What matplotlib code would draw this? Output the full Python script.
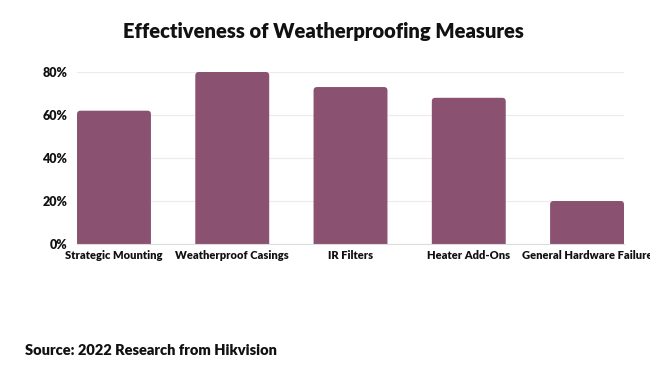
import matplotlib.pyplot as plt
from matplotlib.patches import FancyBboxPatch
from matplotlib.ticker import PercentFormatter

categories = ["Strategic Mounting", "Weatherproof Casings", "IR Filters", "Heater Add-Ons", "General Hardware Failure"]
effectiveness = [62, 80, 73, 68, 20]
y_ticks = [0, 20, 40, 60, 80]

plt.rcParams["font.family"] = ["Lato", "DejaVu Sans"]
plt.rcParams["font.weight"] = "bold"

fig = plt.figure(figsize=(6.5, 3.66), dpi=100)
ax = fig.add_axes([0.1185, 0.3333, 0.8415, 0.47])

bar_width = 0.625
bars = ax.bar(range(len(categories)), effectiveness, width=bar_width, color="#8a5270", zorder=2)

ax.set_xlim(-bar_width / 2, len(categories) - 1 + bar_width / 2)
ax.set_ylim(0, 80)

# swap plain bars for ones with slightly rounded tops
fig.canvas.draw()
px_x = ax.transData.transform((1, 0))[0] - ax.transData.transform((0, 0))[0]
px_y = ax.transData.transform((0, 1))[1] - ax.transData.transform((0, 0))[1]
aspect = px_x / px_y
radius = 3.5 / px_x
for rect in bars:
    rect.set_visible(False)
    x, w, h = rect.get_x(), rect.get_width(), rect.get_height()
    patch = FancyBboxPatch((x, -5), w, h + 5, boxstyle=f"round,pad=0,rounding_size={radius}",
                           mutation_aspect=aspect, facecolor="#8a5270", edgecolor="none", zorder=2)
    ax.add_patch(patch)
    patch.set_clip_path(ax.patch)

ax.set_yticks(y_ticks)
ax.yaxis.set_major_formatter(PercentFormatter(decimals=0))
ax.set_xticks(range(len(categories)))
ax.set_xticklabels(categories, fontsize=8, fontweight="heavy", color="#111111")
ax.tick_params(axis="y", labelsize=9, labelcolor="#111111", length=0, pad=7)
ax.tick_params(axis="x", length=0, pad=4)
for lbl in ax.get_yticklabels():
    lbl.set_fontweight("heavy")
ax.grid(axis="y", color="#ebebeb", linewidth=0.8, zorder=0)
for side in ["top", "right", "left"]:
    ax.spines[side].set_visible(False)
ax.spines["bottom"].set_color("#dddddd")
ax.spines["bottom"].set_linewidth(0.8)

fig.text(0.497, 0.915, "Effectiveness of Weatherproofing Measures", ha="center", va="center",
         fontsize=14.5, fontweight="heavy", color="#111111")
fig.text(0.038, 0.025, "Source: 2022 Research from Hikvision", ha="left", va="bottom",
         fontsize=10.5, fontweight="heavy", color="#111111")

fig.savefig("out.png", dpi=100)
